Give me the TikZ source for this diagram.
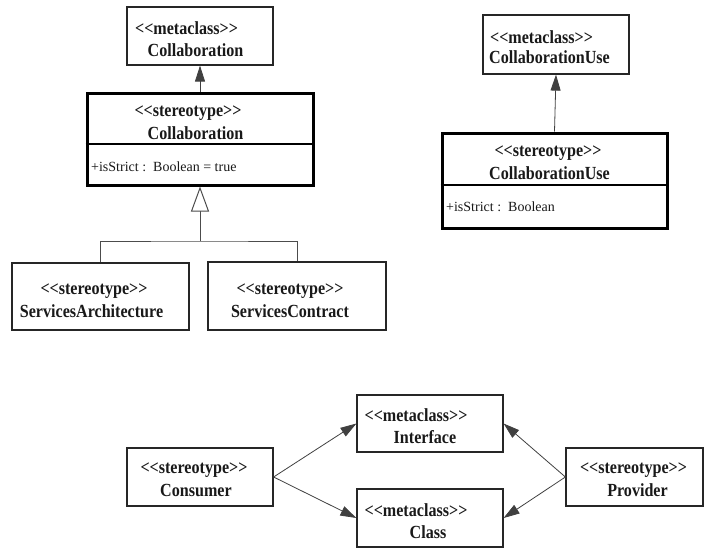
\documentclass[tikz,border=0pt]{standalone}
\usepackage{fontspec}
\setmainfont{Liberation Serif}
\newfontfamily\umlbold[FakeStretch=0.87]{Liberation Serif}
\usetikzlibrary{arrows.meta,fit}

\begin{document}
\begin{tikzpicture}[x=1pt,y=-1pt,
  box/.style={draw=black!85, line width=1.2pt, rectangle, inner sep=0pt},
  heavybox/.style={draw=black, line width=3pt, rectangle, inner sep=0pt},
  title/.style={font=\umlbold\bfseries\fontsize{18.5}{20}\selectfont, inner sep=0pt, text=black!90},
  attr/.style={font=\fontsize{14}{16}\selectfont, inner sep=0pt, anchor=west, text=black!90},
  assoc/.style={draw=black!75, line width=0.8pt, -{Triangle[length=16pt,width=10pt]}},
  gen/.style={draw=black!70, line width=1pt}
]
\useasboundingbox (0,0) rectangle (704,549);

% ---- Collaboration profile ----
\node[box, fit={(127,7) (273,65)}] (mcollab) {};
\node[title] (mcollab-st) at (186.5,28) {<<metaclass>>};
\node[title] (mcollab-nm) at (195.5,50) {Collaboration};

\node[heavybox, fit={(87,93) (313,185)}] (scollab) {};
\coordinate (scollab-div) at (0,144);
\draw[line width=2.2pt] (scollab.west |- scollab-div) -- (scollab.east |- scollab-div);
\node[title] (scollab-st) at (188,113) {<<stereotype>>};
\node[title] (scollab-nm) at (195.5,133) {Collaboration};
\node[attr] (scollab-at) at (91,167) {+isStrict :\ \ Boolean = true};

\node[box, fit={(12,263) (189,330)}] (sarch) {};
\node[title] (sarch-st) at (94,291) {<<stereotype>>};
\node[title] (sarch-nm) at (91.5,311) {ServicesArchitecture};

\node[box, fit={(208,262) (386,330)}] (scontract) {};
\node[title] (scontract-st) at (290,291) {<<stereotype>>};
\node[title] (scontract-nm) at (290,311) {ServicesContract};

\draw[assoc] (scollab.north) -- (mcollab.south);
\coordinate (join) at (200,241);
\draw[gen] (sarch.north) |- (join) -| (scontract.north);
\draw[gen, -{Triangle[open, length=25pt, width=18pt, fill=white]}] (join) -- (scollab.south);

% ---- CollaborationUse profile ----
\node[box, fit={(483,15) (629,74)}] (mcu) {};
\node[title] (mcu-st) at (541.5,37) {<<metaclass>>};
\node[title] (mcu-nm) at (549.5,57) {CollaborationUse};

\node[heavybox, fit={(442,133) (667,228)}] (scu) {};
\coordinate (scu-div) at (0,185);
\draw[line width=2.2pt] (scu.west |- scu-div) -- (scu.east |- scu-div);
\node[title] (scu-st) at (548,153) {<<stereotype>>};
\node[title] (scu-nm) at (549.5,173) {CollaborationUse};
\node[attr] (scu-at) at (446,207) {+isStrict :\ \ Boolean};

\draw[assoc] (scu.north) -- (mcu.south);

% ---- Consumer / Provider ----
\node[box, fit={(357,395) (503,452)}] (iface) {};
\node[title] (iface-st) at (416,415) {<<metaclass>>};
\node[title] (iface-nm) at (425,437) {Interface};

\node[box, fit={(357,489) (503,547)}] (klass) {};
\node[title] (klass-st) at (416,510) {<<metaclass>>};
\node[title] (klass-nm) at (428,532) {Class};

\node[box, fit={(127,448) (273,506)}] (consumer) {};
\node[title] (consumer-st) at (194,470) {<<stereotype>>};
\node[title] (consumer-nm) at (196,490) {Consumer};

\node[box, fit={(566,448) (703,506)}] (provider) {};
\node[title] (provider-st) at (633.5,470) {<<stereotype>>};
\node[title] (provider-nm) at (637.5,490) {Provider};

\draw[assoc] (consumer.east) -- (iface.west);
\draw[assoc] (consumer.east) -- (klass.west);
\draw[assoc] (provider.west) -- (iface.east);
\draw[assoc] (provider.west) -- (klass.east);
\end{tikzpicture}
\end{document}
